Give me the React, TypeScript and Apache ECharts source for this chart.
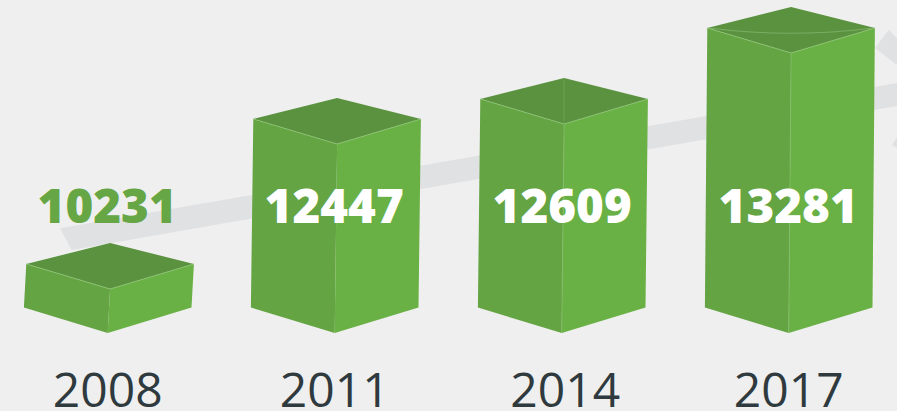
import React, { useEffect, useRef } from "react";
import * as echarts from "echarts";

const years = ["2008", "2011", "2014", "2017"];
const values = [10231, 12447, 12609, 13281];
// Drawn height of each box: the picture's bars are not proportional to their labels.
const barLevels = [44, 189, 209, 280];

const FONT = '"Open Sans", sans-serif';

function renderBox(params: any, api: any) {
  const idx = api.value(0);
  const level = api.value(1);
  const label = api.value(2);
  const base = api.coord([idx, 0]);
  const top = api.coord([idx, level]);
  const bx = base[0], by = base[1];
  const tx = bx + 2.4, ty = top[1];
  const hw = 83.8;
  const edge = { stroke: "#8fc676", lineWidth: 0.8 };
  const poly = (points: number[][], fill: string) => ({
    type: "polygon",
    shape: { points },
    style: { fill, stroke: "none" },
  });
  const children: any[] = [
    poly([[tx - hw, ty - 25], [tx, ty], [bx, by], [bx - hw, by - 25.5]], "#64a443"),
    poly([[tx, ty], [tx + hw, ty - 25], [bx + hw, by - 25.5], [bx, by]], "#69b145"),
    poly([[tx - hw, ty - 25], [tx, ty - 46], [tx + hw, ty - 25], [tx, ty]], "#5a923f"),
    { type: "polyline", shape: { points: [[tx - hw, ty - 25], [tx, ty], [tx + hw, ty - 25]] }, style: { fill: "none", ...edge } },
  ];
  if (idx >= 2) {
    children.push({ type: "line", shape: { x1: tx, y1: ty, x2: bx, y2: by }, style: { ...edge, stroke: "#84bd69" } });
  }
  if (idx === 2) {
    children.push({ type: "line", shape: { x1: tx, y1: ty - 46, x2: tx, y2: ty }, style: { stroke: "#6ea653", lineWidth: 0.8 } });
  }
  if (idx === 3) {
    children.push({
      type: "bezierCurve",
      shape: { x1: tx - hw + 2, y1: ty - 25, x2: tx + hw - 2, y2: ty - 25, cpx1: tx - 30, cpy1: ty - 18, cpx2: tx + 30, cpy2: ty - 18 },
      style: { fill: "none", stroke: "#83b56c", lineWidth: 0.8 },
    });
  }
  children.push({
    type: "text",
    style: {
      x: bx - 0.5 + (idx === 2 ? 1 : 0),
      y: 204.5,
      text: String(label),
      fill: idx === 0 ? "#66a644" : "#ffffff",
      font: `800 47.5px ${FONT}`,
      textAlign: "center",
      textVerticalAlign: "middle",
    },
    z2: 10,
  });
  return { type: "group", children };
}

export default function App() {
  const ref = useRef<HTMLDivElement>(null);
  useEffect(() => {
    const chart = echarts.init(ref.current!, null, { renderer: "svg" });
    const stripe = "#e0e1e3";
    chart.setOption({
      animation: false,
      backgroundColor: "#efefef",
      grid: { left: -5.8, right: -5.2, top: 0, bottom: 78, containLabel: false, outerBoundsMode: "none" },
      xAxis: {
        type: "category",
        data: years.map((y, i) => (i === 2 ? { value: y, textStyle: { padding: [0, 0, 0, 7] } } : y)),
        axisLine: { show: false },
        axisTick: { show: false },
        axisLabel: { color: "#2f3a3e", fontFamily: FONT, fontSize: 48, margin: 32, lineHeight: 46 },
      },
      yAxis: { type: "value", min: 0, max: 333, show: false },
      graphic: [
        { type: "polygon", z: 0, silent: true, shape: { points: [[60, 228.3], [897, 83], [897, 106], [71.7, 250]] }, style: { fill: stripe } },
        { type: "polygon", z: 0, silent: true, shape: { points: [[875, 48], [888.7, 30], [897, 38], [897, 65]] }, style: { fill: stripe } },
        { type: "polygon", z: 0, silent: true, shape: { points: [[892, 145], [897, 137], [897, 148]] }, style: { fill: stripe } },
      ],
      series: [
        {
          type: "custom",
          clip: false,
          z: 5,
          renderItem: renderBox,
          encode: { x: 0, y: 1 },
          data: years.map((_, i) => [i, barLevels[i], values[i]]),
        },
      ],
    });
    return () => chart.dispose();
  }, []);
  return <div ref={ref} style={{ position: "fixed", left: 0, top: 0, width: 897, height: 411 }} />;
}
